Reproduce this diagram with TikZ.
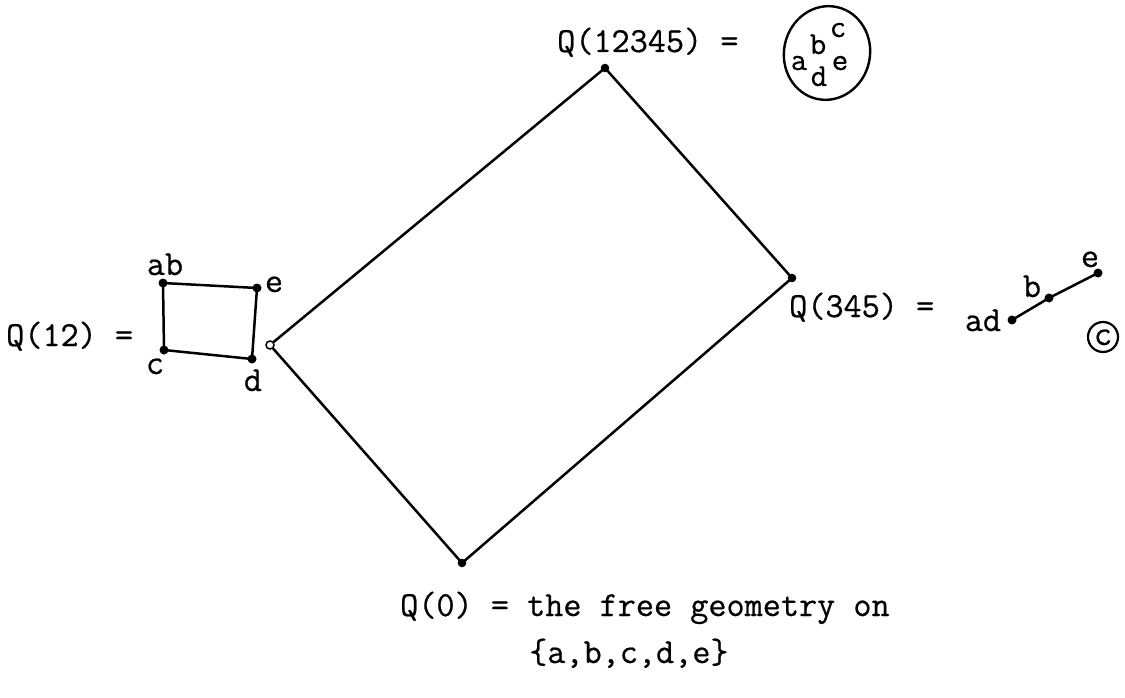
\documentclass[tikz,border=0pt]{standalone}
\usepackage{fontspec}
\newfontfamily\tw{Latin Modern Mono}[FakeBold=0.6]
\begin{document}
\begin{tikzpicture}[x=1pt,y=-1pt,
  lbl/.style={inner sep=0pt,anchor=base,font=\fontsize{35.2}{42}\selectfont\tw},
  lblw/.style={lbl,anchor=base west},
  small/.style={lbl,font=\fontsize{32}{38}\selectfont\tw},
  edge/.style={line width=2.5pt,line cap=round,line join=round},
  odot/.style={circle,draw=black,fill=white,line width=1.5pt,inner sep=0pt,minimum size=8pt}]
\useasboundingbox (0,0) rectangle (1125,698);
% big diamond
\coordinate (T) at (605,68);
\coordinate (R) at (792,278);
\coordinate (B) at (462,563);
\coordinate (L) at (270,345);
\draw[edge] (T) -- (R) -- (B) -- (L) -- cycle;
\foreach \p in {T,R,B} \fill (\p) circle (4.3);
\node[odot] (Lo) at (L) {};
% Q(12345)
\node[lblw] (q12345) at (557,52) {Q(12345) =};
\draw[line width=2.4pt,rotate around={-12:(827,53)}] (827,53) ellipse [x radius=43, y radius=47];
\node[small] (ea) at (799,70) {a};
\node[small] (eb) at (818,54) {b};
\node[small] (ec) at (838,37) {c};
\node[small] (ed) at (819,86) {d};
\node[small] (ee) at (840,70) {e};
% Q(12)
\node[lblw] (q12) at (6,346) {Q(12) =};
\coordinate (sab) at (163,283);
\coordinate (se) at (257,288);
\coordinate (sd) at (252,359);
\coordinate (sc) at (164,350);
\draw[edge] (sab) -- (se) -- (sd) -- (sc) -- cycle;
\foreach \p in {sab,se,sd,sc} \fill (\p) circle (4.5);
\node[lbl] (lab) at (165,275) {ab};
\node[lbl] (le) at (274,292) {e};
\node[lbl] (lc) at (155,374) {c};
\node[lbl] (ld) at (253,391) {d};
% Q(345)
\node[lblw] (q345) at (789,317) {Q(345) =};
\coordinate (pad) at (1012,320);
\coordinate (pb) at (1049,298);
\coordinate (pe) at (1098,273);
\draw[edge] (pad) -- (pb) -- (pe);
\foreach \p in {pad,pb,pe} \fill (\p) circle (4.5);
\node[lbl] (lad) at (983,331) {ad};
\node[lbl] (lb) at (1032,297) {b};
\node[lbl] (lpe) at (1090,267) {e};
\draw[line width=2.2pt] (1103,337) circle (15);
\node[lbl] (lcc) at (1103,345) {c};
% Q(0)
\node[lblw] (q0) at (400,616) {Q(0) = the free geometry on};
\node[lblw] (set) at (529,663) {\{a,b,c,d,e\}};
\end{tikzpicture}
\end{document}
